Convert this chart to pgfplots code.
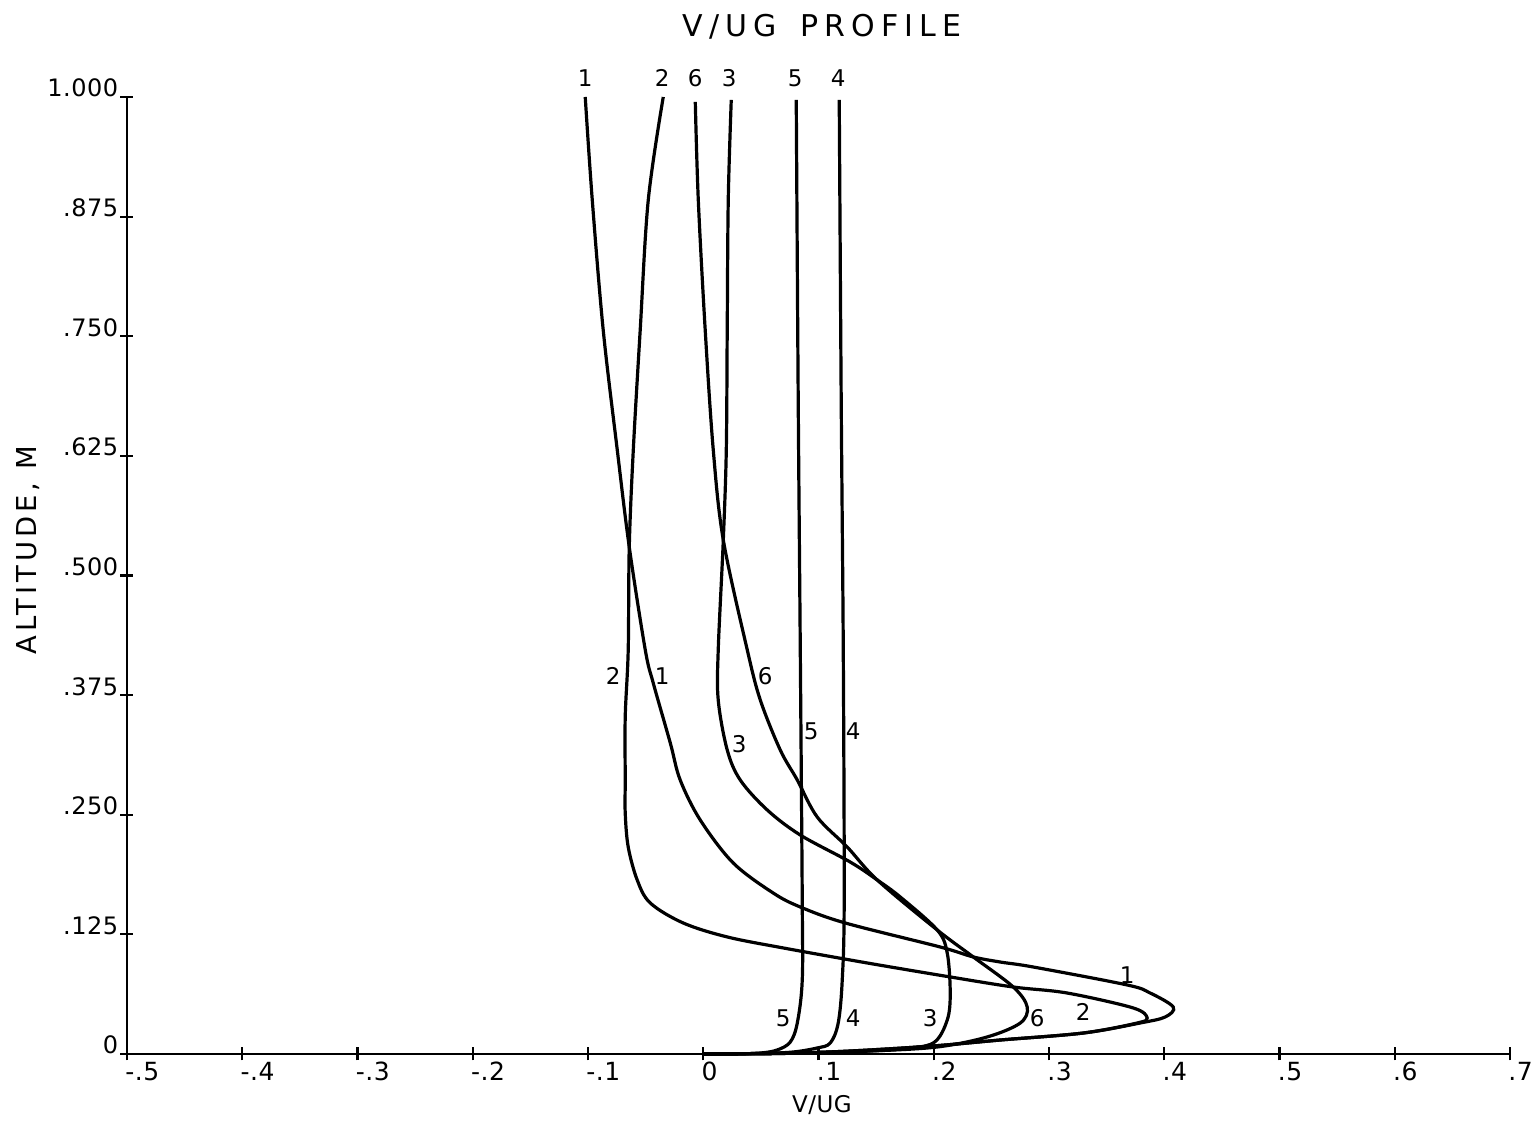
\documentclass[border=0pt]{standalone}
\usepackage{fontspec}
\setmainfont{DejaVu Sans}
\newfontfamily\spacedfont[LetterSpace=20]{DejaVu Sans}
\newfontfamily\ylabfont[LetterSpace=15]{DejaVu Sans}
\newfontfamily\tickfont[LetterSpace=2]{DejaVu Sans}
\usepackage{pgfplots}
\pgfplotsset{compat=1.18}

\pgfplotstableread{
x y
-0.1024 1.0000
-0.0963 0.8924
-0.0868 0.7565
-0.0746 0.6311
-0.0642 0.5298
-0.0503 0.4222
-0.0434 0.3877
-0.0286 0.3250
-0.0200 0.2863
-0.0026 0.2445
0.0260 0.1996
0.0607 0.1682
0.0842 0.1536
0.1232 0.1369
0.2056 0.1118
0.2343 0.1014
0.2577 0.0961
0.2863 0.0909
0.3679 0.0721
0.3878 0.0637
0.4078 0.0491
0.4009 0.0387
0.3792 0.0324
0.3297 0.0219
0.2577 0.0146
0.1996 0.0084
0.1275 0.0031
0.0668 0.0005
0.0000 0.0000
}\curveone

\pgfplotstableread{
x y
-0.0347 1.0000
-0.0477 0.8924
-0.0547 0.7565
-0.0607 0.6311
-0.0642 0.5298
-0.0651 0.4222
-0.0677 0.3521
-0.0677 0.2863
-0.0677 0.2518
-0.0651 0.2163
-0.0573 0.1818
-0.0460 0.1578
-0.0174 0.1369
0.0208 0.1223
0.0694 0.1108
0.1423 0.0951
0.2143 0.0805
0.2690 0.0700
0.3158 0.0637
0.3731 0.0481
0.3852 0.0376
0.3766 0.0324
0.3297 0.0219
0.2577 0.0146
0.1996 0.0084
0.1275 0.0031
0.0668 0.0005
0.0000 0.0000
}\curvetwo

\pgfplotstableread{
x y
0.0243 0.9969
0.0217 0.8924
0.0208 0.7565
0.0200 0.6311
0.0174 0.5371
0.0130 0.4222
0.0130 0.3699
0.0208 0.3177
0.0321 0.2863
0.0555 0.2550
0.0842 0.2288
0.1275 0.2006
0.1510 0.1818
0.1709 0.1641
0.2030 0.1296
0.2117 0.1055
0.2143 0.0637
0.2117 0.0355
0.1996 0.0115
0.1709 0.0052
0.1423 0.0031
0.0842 0.0010
0.0000 0.0000
}\curvethree

\pgfplotstableread{
x y
0.1180 0.9969
0.1197 0.6834
0.1215 0.4222
0.1223 0.1609
0.1206 0.0773
0.1171 0.0324
0.1102 0.0115
0.0989 0.0063
0.0781 0.0021
0.0495 0.0005
0.0000 0.0000
}\curvefour

\pgfplotstableread{
x y
0.0807 0.9969
0.0824 0.6834
0.0842 0.4222
0.0859 0.1609
0.0859 0.0773
0.0816 0.0324
0.0755 0.0125
0.0642 0.0042
0.0495 0.0010
0.0260 0.0000
0.0000 0.0000
}\curvefive

\pgfplotstableread{
x y
-0.0069 0.9948
-0.0043 0.8924
0.0017 0.7565
0.0087 0.6311
0.0174 0.5371
0.0382 0.4222
0.0495 0.3699
0.0668 0.3177
0.0816 0.2863
0.0989 0.2476
0.1249 0.2163
0.1510 0.1818
0.2030 0.1296
0.2343 0.1014
0.2690 0.0700
0.2811 0.0491
0.2751 0.0324
0.2464 0.0178
0.2030 0.0073
0.1449 0.0031
0.0842 0.0010
0.0000 0.0000
}\curvesix

\begin{document}
\begin{tikzpicture}
\path (-63.5pt,-33pt) rectangle (703pt,527pt);
\begin{axis}[
  at={(0,0)}, anchor=south west,
  scale only axis, width=691.5pt, height=478.5pt,
  xmin=-0.5, xmax=0.7, ymin=0, ymax=1,
  axis lines=left,
  axis line style={-, line width=1.4pt},
  clip=false,
  tick align=center,
  major tick length=6.5pt,
  tick style={line width=1.1pt, black},
  xtick={-0.5,-0.4,-0.3,-0.2,-0.1,0,0.1,0.2,0.3,0.4,0.5,0.6,0.7},
  xticklabels={-.5,-.4,-.3,-.2,-.1,0,.1,.2,.3,.4,.5,.6,.7},
  ytick={0,0.125,0.25,0.375,0.5,0.625,0.75,0.875,1},
  yticklabels={0,.125,.250,.375,.500,.625,.750,.875,1.000},
  xticklabel style={font=\tickfont\fontsize{12.5}{14}\selectfont, anchor=north west, inner sep=0pt, xshift=-1pt, yshift=-0.5pt},
  yticklabel style={font=\tickfont\fontsize{12}{14}\selectfont, anchor=base east, inner sep=0pt, xshift=-1pt},
  title={V/UG\hspace{0.8em}PROFILE},
  title style={at={(rel axis cs:0.5025,1.061)}, anchor=center, font=\spacedfont\fontsize{15}{17}\selectfont},
  xlabel={V/UG},
  xlabel style={at={(rel axis cs:0.5025,-0.0533)}, anchor=center, font=\tickfont\fontsize{11.5}{13}\selectfont},
  ylabel={ALTITUDE, M},
  ylabel style={at={(rel axis cs:-0.0716,0.5266)}, anchor=center, font=\ylabfont\fontsize{13.7}{15}\selectfont},
  no markers,
]
\addplot[black, solid, line width=1.6pt, smooth, tension=0.55] table[x=x,y=y] {\curveone};
\addplot[black, solid, line width=1.6pt, smooth, tension=0.55] table[x=x,y=y] {\curvetwo};
\addplot[black, solid, line width=1.6pt, smooth, tension=0.55] table[x=x,y=y] {\curvethree};
\addplot[black, solid, line width=1.6pt, smooth, tension=0.55] table[x=x,y=y] {\curvefour};
\addplot[black, solid, line width=1.6pt, smooth, tension=0.55] table[x=x,y=y] {\curvefive};
\addplot[black, solid, line width=1.6pt, smooth, tension=0.55] table[x=x,y=y] {\curvesix};
\begin{scope}[every node/.style={font=\fontsize{11.5}{13}\selectfont, inner sep=0pt}]
\node at (axis cs:-0.1024,1.020) {1};
\node at (axis cs:-0.0356,1.020) {2};
\node at (axis cs:-0.0069,1.020) {6};
\node at (axis cs:0.0226,1.020) {3};
\node at (axis cs:0.0798,1.020) {5};
\node at (axis cs:0.1171,1.020) {4};
\node at (axis cs:-0.0781,0.395) {2};
\node at (axis cs:-0.0356,0.395) {1};
\node at (axis cs:0.0538,0.395) {6};
\node at (axis cs:0.0312,0.324) {3};
\node at (axis cs:0.0937,0.3375) {5};
\node at (axis cs:0.1302,0.3375) {4};
\node at (axis cs:0.0694,0.0376) {5};
\node at (axis cs:0.1302,0.0376) {4};
\node at (axis cs:0.1970,0.0376) {3};
\node at (axis cs:0.2898,0.0376) {6};
\node at (axis cs:0.3297,0.0439) {2};
\node at (axis cs:0.3679,0.0825) {1};
\end{scope}
\end{axis}
\end{tikzpicture}
\end{document}
